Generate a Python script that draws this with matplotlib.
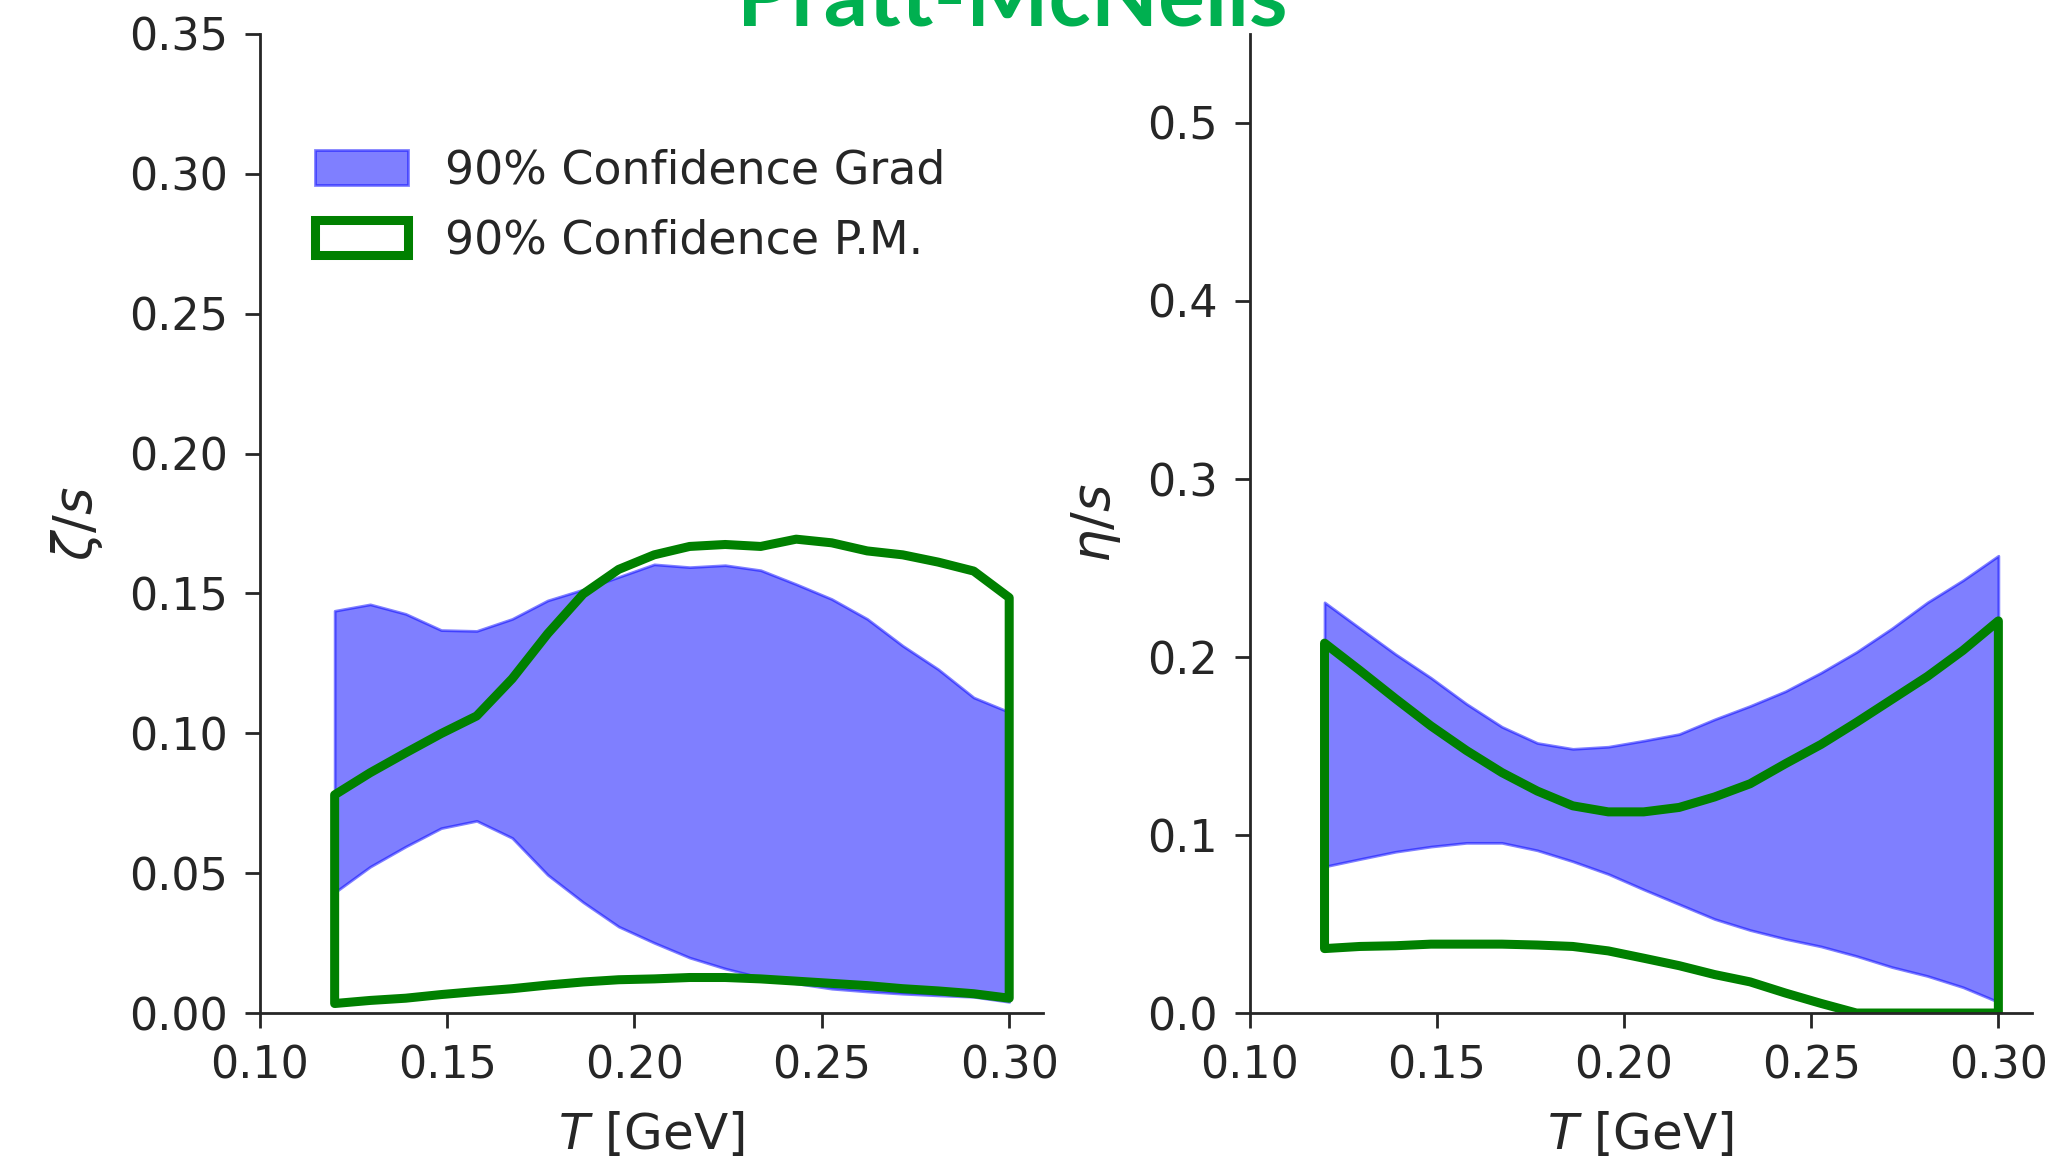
import numpy as np
import matplotlib
matplotlib.use("Agg")
import matplotlib.pyplot as plt
from matplotlib.ticker import FormatStrFormatter

# temperature grid (GeV)
T = np.linspace(0.12, 0.30, 20)

# zeta/s bands
zeta_grad_hi = [0.1438, 0.1461, 0.1427, 0.1369, 0.1366, 0.1409, 0.1475, 0.1514, 0.1559, 0.1604,
                0.1594, 0.1601, 0.1583, 0.1533, 0.1480, 0.1409, 0.1313, 0.1229, 0.1128, 0.1076]
zeta_grad_lo = [0.0431, 0.0523, 0.0595, 0.0661, 0.0687, 0.0626, 0.0494, 0.0396, 0.0309, 0.0251,
                0.0198, 0.0159, 0.0127, 0.0106, 0.0087, 0.0077, 0.0069, 0.0063, 0.0058, 0.0040]
zeta_pm_hi = [0.0780, 0.0859, 0.0930, 0.0999, 0.1062, 0.1195, 0.1356, 0.1498, 0.1586, 0.1638,
              0.1668, 0.1675, 0.1668, 0.1694, 0.1681, 0.1652, 0.1638, 0.1612, 0.1580, 0.1485]
zeta_pm_lo = [0.0034, 0.0045, 0.0053, 0.0066, 0.0077, 0.0087, 0.0100, 0.0111, 0.0119, 0.0122,
              0.0127, 0.0127, 0.0122, 0.0114, 0.0106, 0.0098, 0.0087, 0.0079, 0.0069, 0.0053]

# eta/s bands
eta_grad_hi = [0.2307, 0.2161, 0.2016, 0.1883, 0.1737, 0.1608, 0.1517, 0.1484, 0.1496, 0.1530,
               0.1567, 0.1650, 0.1725, 0.1808, 0.1912, 0.2028, 0.2161, 0.2307, 0.2431, 0.2569]
eta_grad_lo = [0.0823, 0.0865, 0.0906, 0.0935, 0.0956, 0.0956, 0.0914, 0.0852, 0.0781, 0.0694,
               0.0611, 0.0528, 0.0466, 0.0416, 0.0374, 0.0320, 0.0258, 0.0208, 0.0145, 0.0062]
eta_pm_hi = [0.2078, 0.1924, 0.1766, 0.1613, 0.1475, 0.1351, 0.1247, 0.1164, 0.1130, 0.1130,
             0.1155, 0.1214, 0.1288, 0.1401, 0.1509, 0.1633, 0.1762, 0.1891, 0.2037, 0.2203]
eta_pm_lo = [0.0362, 0.0374, 0.0378, 0.0387, 0.0387, 0.0387, 0.0382, 0.0374, 0.0349, 0.0308,
             0.0266, 0.0216, 0.0175, 0.0112, 0.0054, 0.0, 0.0, 0.0, 0.0, 0.0]

text_col = "#262626"
plt.rcParams["font.family"] = "DejaVu Sans"
plt.rcParams["font.size"] = 32
plt.rcParams["text.color"] = text_col
plt.rcParams["axes.labelcolor"] = text_col
plt.rcParams["xtick.color"] = text_col
plt.rcParams["ytick.color"] = text_col

fig = plt.figure(figsize=(20.53, 11.60), dpi=100)
ax1 = fig.add_axes([0.1265, 0.1267, 0.3815, 0.844])
ax2 = fig.add_axes([0.6087, 0.1267, 0.3811, 0.844])

panels = [
    (ax1, zeta_grad_lo, zeta_grad_hi, zeta_pm_lo, zeta_pm_hi, r"$\zeta/s$", 0.35, np.arange(0, 0.351, 0.05), "%.2f"),
    (ax2, eta_grad_lo, eta_grad_hi, eta_pm_lo, eta_pm_hi, r"$\eta/s$", 0.55, np.arange(0, 0.51, 0.1), "%.1f"),
]

for ax, glo, ghi, plo, phi, ylab, ytop, yt, yfmt in panels:
    ax.fill_between(T, glo, ghi, color="blue", alpha=0.5, lw=2,
                    label="90% Confidence Grad")
    ax.fill_between(T, plo, phi, facecolor="none", edgecolor="green", lw=6.5,
                    label="90% Confidence P.M.")
    ax.set_xlim(0.1, 0.309)
    ax.set_ylim(0, ytop)
    ax.set_xticks([0.10, 0.15, 0.20, 0.25, 0.30])
    ax.set_yticks(yt)
    ax.xaxis.set_major_formatter(FormatStrFormatter("%.2f"))
    ax.yaxis.set_major_formatter(FormatStrFormatter(yfmt))
    ax.set_xlabel(r"$T$ [GeV]", fontsize=36, labelpad=16)
    ax.set_ylabel(ylab, fontsize=38, labelpad=17)
    for s in ["top", "right"]:
        ax.spines[s].set_visible(False)
    for s in ["left", "bottom"]:
        ax.spines[s].set_linewidth(2.0)
        ax.spines[s].set_color(text_col)
    ax.tick_params(length=11, width=2.0, pad=12, labelsize=32)

ax1.legend(loc="upper left", bbox_to_anchor=(0.07, 0.883), frameon=False,
           fontsize=33, handlelength=2.05, handleheight=0.8, labelspacing=0.55,
           handletextpad=0.8, borderpad=0, borderaxespad=0)

fig.text(0.493, 1 - 26 / 1160, "Pratt-McNeils", color="#00B050", fontsize=63,
         fontweight="bold", family="Lato", ha="center", va="baseline")

fig.savefig("out.png", dpi=100)
